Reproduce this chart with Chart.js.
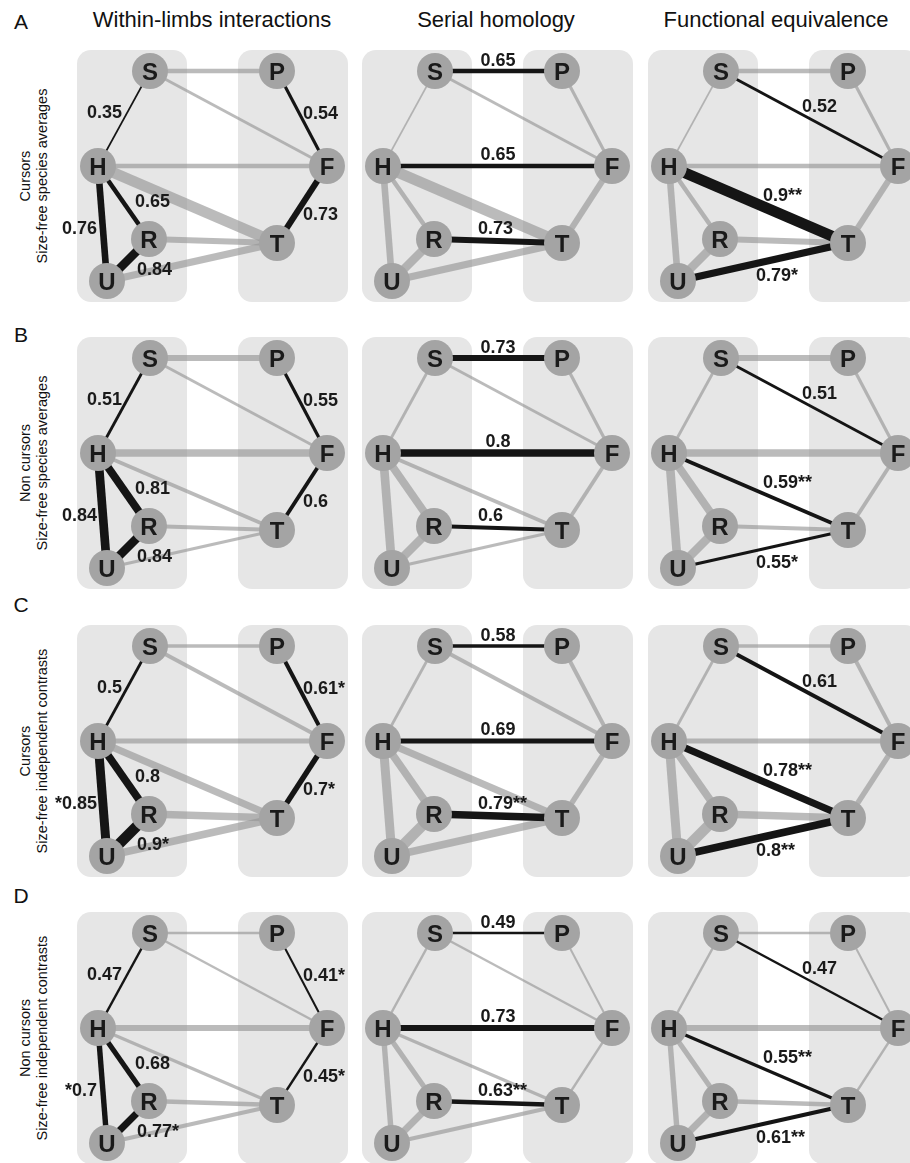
<!DOCTYPE html>
<html>
<head>
<meta charset="utf-8">
<script src="https://cdn.jsdelivr.net/npm/chart.js@4.4.0/dist/chart.umd.min.js"></script>
<style>
  body { margin: 0; width: 910px; height: 1163px; overflow: hidden; background: #fff; position: relative;
         font-family: "Liberation Sans", Arial, sans-serif; color: #111; }
  .panel { position: absolute; }
  .title { position: absolute; top: 8px; font-size: 22px; line-height: 24px; white-space: nowrap; transform: translateX(-50%); }
  .letter { position: absolute; font-size: 21px; line-height: 24px; transform: translate(-50%, -50%); }
  .side { position: absolute; width: 260px; height: 34px; font-size: 14.5px; line-height: 17px; text-align: center;
          white-space: nowrap; transform: rotate(-90deg); }
</style>
</head>
<body>
<script>
// panel headings and row descriptions
const columnTitles = ['Within-limbs interactions', 'Serial homology', 'Functional equivalence'];
const rowLetters = ['A', 'B', 'C', 'D'];
const rowGroups = ['Cursors', 'Non cursors', 'Cursors', 'Non cursors'];
const rowMethods = ['Size-free species averages', 'Size-free species averages',
                    'Size-free independent contrasts', 'Size-free independent contrasts'];

// the 12 correlations drawn in every panel, and the panel (column) that highlights each one
const edgePairs  = ['S-H', 'P-F', 'H-R', 'H-U', 'R-U', 'F-T', 'S-P', 'H-F', 'R-T', 'S-F', 'H-T', 'U-T'];
const edgeColumn = [0, 0, 0, 0, 0, 0, 1, 1, 1, 2, 2, 2];

// correlation values per row (same order as edgePairs)
const corrA = [0.35, 0.54, 0.65, 0.76, 0.84, 0.73, 0.65, 0.65, 0.73, 0.52, 0.9, 0.79];
const corrB = [0.51, 0.55, 0.81, 0.84, 0.84, 0.6, 0.73, 0.8, 0.6, 0.51, 0.59, 0.55];
const corrC = [0.5, 0.61, 0.8, 0.85, 0.9, 0.7, 0.58, 0.69, 0.79, 0.61, 0.78, 0.8];
const corrD = [0.47, 0.41, 0.68, 0.7, 0.77, 0.45, 0.49, 0.73, 0.63, 0.47, 0.55, 0.61];

// significance marks ('pre*' = star written before the number)
const starsA = ['', '', '', '', '', '', '', '', '', '', '**', '*'];
const starsB = ['', '', '', '', '', '', '', '', '', '', '**', '*'];
const starsC = ['', '*', '', 'pre*', '*', '*', '', '', '**', '', '**', '**'];
const starsD = ['', '*', '', 'pre*', '*', '*', '', '', '**', '', '**', '**'];

const rowValues = [corrA, corrB, corrC, corrD];
const rowStars = [starsA, starsB, starsC, starsD];

// layout of the graph (panel units, y downwards)
const nodeNames = ['S', 'P', 'H', 'F', 'R', 'T', 'U'];
const nodeLayout = {
  S: { x: 73, y: 21 }, P: { x: 200, y: 21 },
  H: { x: 21, y: 116 }, F: { x: 250, y: 116 },
  R: { x: 72, y: 189 }, T: { x: 200, y: 193 },
  U: { x: 30, y: 231 }
};
const labelAnchor = {
  'S-H': { x: 45, y: 62, align: 'right' },  'P-F': { x: 226, y: 63, align: 'left' },
  'H-R': { x: 58, y: 151, align: 'left' },  'H-U': { x: 20, y: 178, align: 'right' },
  'R-U': { x: 60, y: 219, align: 'left' },  'F-T': { x: 226, y: 164, align: 'left' },
  'S-P': { x: 136, y: 10, align: 'center' }, 'H-F': { x: 136, y: 104, align: 'center' },
  'R-T': { x: 116, y: 178, align: 'left' }, 'S-F': { x: 154, y: 56, align: 'left' },
  'H-T': { x: 115, y: 145, align: 'left' }, 'U-T': { x: 108, y: 225, align: 'left' }
};

const colLeft = [77, 362, 648];
const rowTop = [50, 337, 625, 912];
const letterY = [22, 335, 605, 896];
const titleX = [212, 496, 776];
const padL = 35, padR = 15, padT = 12, padB = 10;
const boxW = 271, boxH = 252;

const grayEdge = 'rgba(150,150,150,0.65)';
const blackEdge = '#151515';
const nodeFill = '#a4a4a4';
const boxFill = '#e6e6e6';

// line thickness grows with the correlation
const widthFor = r => 0.5 * Math.exp(3.4 * r);

function label(v, s) {
  return s.startsWith('pre') ? s.slice(3) + v : v + s;
}

function roundRect(ctx, x, y, w, h, r) {
  ctx.beginPath();
  ctx.moveTo(x + r, y);
  ctx.arcTo(x + w, y, x + w, y + h, r);
  ctx.arcTo(x + w, y + h, x, y + h, r);
  ctx.arcTo(x, y + h, x, y, r);
  ctx.arcTo(x, y, x + w, y, r);
  ctx.closePath();
  ctx.fill();
}

const panelPlugin = {
  id: 'panelDecor',
  beforeDatasetsDraw(chart) {
    const { ctx, scales: { x, y } } = chart;
    ctx.save();
    ctx.fillStyle = boxFill;
    [[0, 110], [161, 271]].forEach(([a, b]) => {
      const px = x.getPixelForValue(a), py = y.getPixelForValue(0);
      roundRect(ctx, px, py, x.getPixelForValue(b) - px, y.getPixelForValue(boxH) - py, 14);
    });
    ctx.restore();
  },
  afterDatasetsDraw(chart) {
    const { ctx, scales: { x, y } } = chart;
    const o = chart.options.plugins.panelDecor;
    ctx.save();
    ctx.fillStyle = '#1a1a1a';
    ctx.textBaseline = 'alphabetic';
    ctx.font = 'bold 24px "Liberation Sans", Arial, sans-serif';
    ctx.textAlign = 'center';
    nodeNames.forEach(n => {
      ctx.fillText(n, x.getPixelForValue(nodeLayout[n].x), y.getPixelForValue(nodeLayout[n].y) + 8.6);
    });
    ctx.font = 'bold 18px "Liberation Sans", Arial, sans-serif';
    edgePairs.forEach((e, i) => {
      if (edgeColumn[i] !== o.col) return;
      const a = labelAnchor[e];
      ctx.textAlign = a.align;
      ctx.fillText(label(o.values[i], o.stars[i]), x.getPixelForValue(a.x), y.getPixelForValue(a.y) + 6.4);
    });
    ctx.restore();
  }
};

function makePanel(row, col) {
  const W = boxW + padL + padR, H = boxH + padT + padB;
  const div = document.createElement('div');
  div.className = 'panel';
  div.style.left = (colLeft[col] - padL) + 'px';
  div.style.top = (rowTop[row] - padT) + 'px';
  const canvas = document.createElement('canvas');
  canvas.width = W; canvas.height = H;
  div.appendChild(canvas);
  document.body.appendChild(div);

  const values = rowValues[row];
  const datasets = [];
  datasets.push({
    label: 'nodes',
    data: nodeNames.map(n => ({ x: nodeLayout[n].x, y: nodeLayout[n].y })),
    pointRadius: 18, pointHoverRadius: 18, pointBackgroundColor: nodeFill, pointBorderWidth: 0,
    showLine: false, order: 0, clip: false
  });
  edgePairs.forEach((e, i) => {
    const [a, b] = e.split('-');
    const on = edgeColumn[i] === col;
    datasets.push({
      label: e,
      data: [{ x: nodeLayout[a].x, y: nodeLayout[a].y }, { x: nodeLayout[b].x, y: nodeLayout[b].y }],
      showLine: true, pointRadius: 0, borderColor: on ? blackEdge : grayEdge,
      borderWidth: widthFor(values[i]), borderCapStyle: 'butt', order: on ? 1 : 2, clip: false
    });
  });

  new Chart(canvas, {
    type: 'scatter',
    data: { datasets },
    options: {
      responsive: false, animation: false, devicePixelRatio: 1, events: [],
      layout: { padding: 0, autoPadding: false },
      plugins: {
        legend: { display: false }, tooltip: { enabled: false },
        panelDecor: { col, values, stars: rowStars[row] }
      },
      scales: {
        x: { type: 'linear', display: false, min: -padL, max: boxW + padR },
        y: { type: 'linear', display: false, reverse: true, min: -padT, max: boxH + padB }
      }
    },
    plugins: [panelPlugin]
  });
}

columnTitles.forEach((t, c) => {
  const d = document.createElement('div');
  d.className = 'title'; d.textContent = t; d.style.left = titleX[c] + 'px';
  document.body.appendChild(d);
});
rowLetters.forEach((l, r) => {
  const d = document.createElement('div');
  d.className = 'letter'; d.textContent = l;
  d.style.left = '21px'; d.style.top = letterY[r] + 'px';
  document.body.appendChild(d);
  const s = document.createElement('div');
  s.className = 'side';
  s.innerHTML = rowGroups[r] + '<br>' + rowMethods[r];
  s.style.left = (33.5 - 130) + 'px';
  s.style.top = (rowTop[r] + boxH / 2 - 17) + 'px';
  document.body.appendChild(s);
  for (let c = 0; c < 3; c++) makePanel(r, c);
});
</script>
</body>
</html>
